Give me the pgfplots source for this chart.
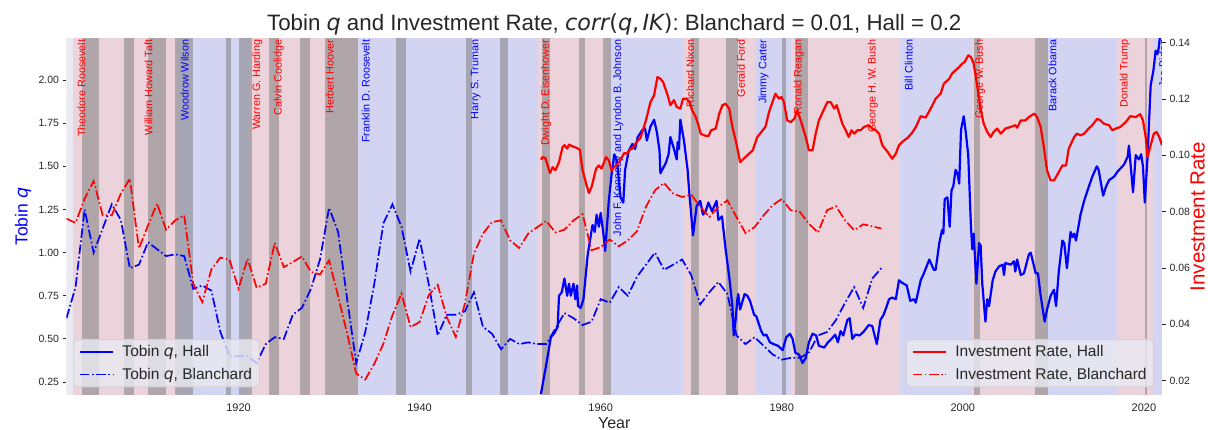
\documentclass[border=0pt]{standalone}
\usepackage{fontspec}
\setmainfont{Liberation Sans}
\newfontfamily\dv{DejaVu Sans}
\usepackage{pgfplots}
\usepackage{pgfplotstable}
\pgfplotsset{compat=1.18}

\definecolor{txt}{RGB}{38,38,38}
\definecolor{bgc}{RGB}{234,234,242}
\definecolor{repc}{RGB}{236,211,219}
\definecolor{demc}{RGB}{211,211,242}
\definecolor{recc}{RGB}{128,128,128}
\definecolor{legfill}{RGB}{234,234,242}
\definecolor{legdraw}{RGB}{210,210,214}

\newcommand\mq{{\dv\itshape q}}

\pgfplotstableread{
year q
1901 0.62
1902 0.80
1903 1.25
1904 1.00
1905 1.14
1906 1.28
1907 1.19
1908 0.91
1909 0.93
1910 1.06
1911 1.02
1912 0.98
1913 0.99
1914 0.98
1915 0.79
1916 0.81
1917 0.78
1918 0.54
1919 0.40
1920 0.40
1921 0.40
1922 0.36
1923 0.47
1924 0.51
1925 0.50
1926 0.64
1927 0.68
1928 0.79
1929 0.96
1930 1.26
1931 1.12
1932 0.73
1933 0.36
1934 0.54
1935 0.82
1936 1.17
1937 1.28
1938 1.15
1939 0.89
1940 1.08
1941 0.82
1942 0.52
1943 0.64
1944 0.64
1945 0.66
1946 0.77
1947 0.57
1948 0.53
1949 0.44
1950 0.50
1951 0.47
1952 0.48
1953 0.47
1954 0.47
1955 0.56
1956 0.65
1957 0.62
1958 0.58
1959 0.60
1960 0.73
1961 0.71
1962 0.80
1963 0.75
1964 0.86
1965 0.93
1966 1.00
1967 0.90
1968 0.93
1969 0.96
1970 0.87
1971 0.70
1972 0.77
1973 0.83
1974 0.76
1975 0.52
1976 0.47
1977 0.51
1978 0.46
1979 0.41
1980 0.38
1981 0.39
1982 0.39
1983 0.42
1984 0.52
1985 0.54
1986 0.61
1987 0.71
1988 0.80
1989 0.68
1990 0.85
1991 0.91
}\qblan

\pgfplotstableread{
year i
1901 0.0775
1902 0.0760
1903 0.0846
1904 0.0909
1905 0.0787
1906 0.0787
1907 0.0864
1908 0.0917
1909 0.0669
1910 0.0751
1911 0.0829
1912 0.0736
1913 0.0769
1914 0.0787
1915 0.0544
1916 0.0479
1917 0.0595
1918 0.0637
1919 0.0630
1920 0.0527
1921 0.0633
1922 0.0530
1923 0.0544
1924 0.0689
1925 0.0603
1926 0.0621
1927 0.0641
1928 0.0586
1929 0.0577
1930 0.0627
1931 0.0500
1932 0.0367
1933 0.0225
1934 0.0204
1935 0.0260
1936 0.0331
1937 0.0432
1938 0.0509
1939 0.0390
1940 0.0408
1941 0.0503
1942 0.0540
1943 0.0426
1944 0.0355
1945 0.0473
1946 0.0651
1947 0.0722
1948 0.0763
1949 0.0769
1950 0.0698
1951 0.0671
1952 0.0722
1953 0.0745
1954 0.0767
1955 0.0726
1956 0.0736
1957 0.0769
1958 0.0791
1959 0.0663
1960 0.0674
1961 0.0701
1962 0.0677
1963 0.0698
1964 0.0730
1965 0.0817
1966 0.0876
1967 0.0902
1968 0.0864
1969 0.0852
1970 0.0861
1971 0.0817
1972 0.0781
1973 0.0817
1974 0.0840
1975 0.0781
1976 0.0724
1977 0.0745
1978 0.0787
1979 0.0823
1980 0.0845
1981 0.0805
1982 0.0799
1983 0.0757
1984 0.0726
1985 0.0805
1986 0.0819
1987 0.0769
1988 0.0734
1989 0.0755
1990 0.0748
1991 0.0740
}\iblan

\pgfplotstableread{
year q
1953.4 0.18
1953.95 0.34
1954.5 0.51
1954.9 0.535
1955.25 0.57
1955.4 0.75
1955.7 0.77
1956.0 0.85
1956.3 0.75
1956.5 0.82
1956.7 0.75
1957.0 0.82
1957.2 0.73
1957.4 0.81
1957.5 0.69
1957.8 0.68
1958.1 0.73
1958.55 0.98
1958.85 1.08
1959.1 1.16
1959.35 1.12
1959.55 1.22
1959.8 1.15
1960.0 1.23
1960.3 1.11
1960.5 1.01
1960.9 1.30
1961.2 1.45
1961.5 1.57
1961.8 1.53
1962.2 1.32
1962.5 1.29
1962.7 1.48
1963.1 1.59
1963.5 1.63
1963.8 1.60
1964.1 1.67
1964.6 1.71
1964.9 1.72
1965.1 1.65
1965.5 1.73
1965.9 1.77
1966.2 1.70
1966.5 1.59
1966.6 1.46
1967.2 1.52
1967.5 1.57
1967.7 1.67
1968.1 1.60
1968.4 1.54
1968.5 1.64
1968.65 1.60
1968.8 1.77
1969.2 1.65
1969.6 1.48
1969.8 1.34
1970.2 1.10
1970.6 1.27
1971.0 1.30
1971.3 1.22
1971.6 1.24
1971.9 1.29
1972.3 1.24
1972.8 1.30
1973.0 1.19
1973.4 1.21
1973.8 1.02
1974.2 0.86
1974.55 0.69
1974.7 0.52
1974.9 0.61
1975.1 0.73
1975.2 0.76
1975.4 0.67
1975.9 0.76
1976.2 0.75
1976.5 0.72
1976.95 0.64
1977.2 0.63
1977.7 0.55
1978.0 0.52
1978.3 0.525
1978.7 0.48
1979.1 0.47
1979.6 0.46
1980.1 0.435
1980.5 0.51
1980.9 0.53
1981.2 0.50
1981.5 0.42
1981.9 0.41
1982.3 0.36
1982.65 0.39
1983.0 0.48
1983.4 0.53
1983.8 0.52
1984.1 0.46
1984.7 0.45
1985.1 0.48
1985.5 0.50
1985.9 0.525
1986.2 0.48
1986.5 0.545
1986.8 0.52
1987.25 0.61
1987.5 0.62
1987.8 0.50
1988.15 0.525
1988.6 0.52
1989.1 0.545
1989.6 0.58
1990.0 0.575
1990.5 0.47
1990.9 0.61
1991.25 0.64
1991.6 0.69
1991.85 0.73
1992.2 0.74
1992.6 0.73
1992.95 0.84
1993.3 0.825
1993.8 0.81
1994.2 0.72
1994.6 0.73
1994.8 0.71
1995.35 0.84
1995.7 0.88
1996.3 0.96
1996.8 0.90
1997.0 0.90
1997.4 1.055
1997.7 1.13
1997.85 1.11
1998.0 1.31
1998.3 1.32
1998.55 1.15
1998.75 1.36
1998.95 1.385
1999.2 1.48
1999.4 1.46
1999.6 1.40
1999.8 1.71
2000.1 1.79
2000.3 1.71
2000.6 1.565
2000.9 1.15
2001.05 1.02
2001.2 1.11
2001.5 0.82
2001.8 1.055
2001.97 1.04
2002.15 0.82
2002.5 0.60
2002.7 0.73
2002.9 0.69
2003.3 0.84
2003.6 0.89
2004.0 0.92
2004.4 0.93
2004.55 0.87
2004.7 0.94
2005.3 0.93
2005.65 0.95
2005.8 0.89
2006.0 0.96
2006.4 0.87
2006.75 0.88
2007.3 0.99
2007.5 1.00
2008.05 0.88
2008.3 0.88
2008.6 0.75
2009.04 0.60
2009.3 0.67
2009.7 0.75
2010.07 0.785
2010.3 0.69
2010.6 0.89
2011.0 1.07
2011.2 1.055
2011.5 0.91
2011.9 1.12
2012.1 1.09
2012.3 1.11
2012.5 1.07
2013.0 1.22
2013.4 1.30
2013.9 1.38
2014.3 1.44
2014.8 1.50
2015.0 1.48
2015.5 1.33
2015.8 1.38
2016.15 1.42
2016.7 1.44
2017.1 1.47
2017.45 1.49
2017.8 1.51
2018.2 1.555
2018.35 1.62
2018.6 1.47
2018.8 1.35
2019.1 1.565
2019.45 1.54
2019.7 1.57
2019.9 1.50
2020.1 1.29
2020.4 1.55
2020.75 1.97
2021.05 2.055
2021.3 2.17
2021.5 2.15
2021.65 2.19
2021.85 2.29
}\qhall

\pgfplotstableread{
year i
1953.4 0.0985
1953.6 0.0994
1953.9 0.0990
1954.2 0.0958
1954.4 0.0937
1954.7 0.0958
1955.0 0.0947
1955.4 0.0976
1955.8 0.1030
1956.0 0.1036
1956.3 0.1024
1956.5 0.1038
1956.9 0.1032
1957.3 0.1027
1957.7 0.1020
1958.0 0.0947
1958.4 0.0899
1958.7 0.0866
1959.0 0.0888
1959.5 0.0953
1959.8 0.0964
1960.1 0.0953
1960.6 0.0994
1960.9 0.0982
1961.2 0.0947
1961.5 0.0958
1962.05 0.0976
1962.6 0.1008
1962.9 0.1006
1963.2 0.1020
1963.5 0.1024
1963.9 0.1044
1964.4 0.1062
1965.0 0.1124
1965.5 0.1189
1965.9 0.1213
1966.27 0.1278
1966.6 0.1272
1966.9 0.1260
1967.4 0.1213
1967.7 0.1178
1968.1 0.1196
1968.4 0.1172
1968.8 0.1166
1969.1 0.1201
1969.5 0.1201
1969.8 0.1189
1970.1 0.1160
1970.5 0.1136
1970.8 0.1107
1971.05 0.1077
1971.4 0.1071
1971.9 0.1068
1972.2 0.1089
1972.7 0.1095
1973.1 0.1148
1973.45 0.1178
1973.8 0.1183
1974.2 0.1166
1974.55 0.1101
1975.03 0.1036
1975.4 0.0976
1975.8 0.0988
1976.2 0.1000
1976.8 0.1018
1977.3 0.1065
1977.9 0.1089
1978.2 0.1101
1978.6 0.1154
1979.1 0.1201
1979.3 0.1219
1979.7 0.1201
1979.96 0.1207
1980.25 0.1189
1980.6 0.1124
1981.0 0.1118
1981.4 0.1130
1981.7 0.1160
1982.1 0.1124
1982.65 0.1065
1983.0 0.1018
1983.4 0.1018
1983.75 0.1077
1984.1 0.1124
1984.7 0.1166
1985.04 0.1189
1985.4 0.1189
1985.8 0.1166
1986.07 0.1178
1986.3 0.1154
1986.7 0.1112
1987.06 0.1089
1987.4 0.1065
1987.7 0.1089
1988.0 0.1077
1988.35 0.1089
1988.7 0.1089
1989.1 0.1101
1989.6 0.1107
1990.0 0.1095
1990.4 0.1089
1990.75 0.1077
1991.1 0.1036
1991.7 0.1012
1992.2 0.0988
1992.6 0.1006
1992.95 0.1036
1993.4 0.1050
1993.9 0.1062
1994.4 0.1080
1994.8 0.1100
1995.35 0.1139
1995.9 0.1134
1996.45 0.1166
1997.0 0.1201
1997.55 0.1219
1997.9 0.1254
1998.5 0.1272
1998.8 0.1290
1999.2 0.1302
1999.6 0.1314
1999.95 0.1326
2000.2 0.1331
2000.6 0.1355
2000.9 0.1349
2001.2 0.1326
2001.5 0.1266
2002.0 0.1160
2002.3 0.1113
2002.7 0.1083
2003.07 0.1065
2003.4 0.1083
2003.8 0.1095
2004.2 0.1077
2004.7 0.1095
2005.3 0.1101
2005.8 0.1107
2006.0 0.1098
2006.4 0.1124
2006.9 0.1124
2007.3 0.1136
2007.9 0.1148
2008.2 0.1136
2008.6 0.1101
2009.0 0.1018
2009.3 0.0947
2009.7 0.0911
2010.07 0.0911
2010.4 0.0929
2011.0 0.0964
2011.4 0.0964
2011.7 0.1024
2012.3 0.1065
2012.6 0.1077
2013.0 0.1071
2013.4 0.1077
2013.9 0.1095
2014.3 0.1107
2014.85 0.1130
2015.2 0.1124
2015.6 0.1112
2016.15 0.1107
2016.5 0.1089
2016.9 0.1095
2017.4 0.1101
2018.0 0.1118
2018.5 0.1139
2019.1 0.1136
2019.6 0.1146
2019.9 0.1124
2020.2 0.1065
2020.4 0.0994
2020.75 0.1036
2021.1 0.1077
2021.4 0.1083
2021.7 0.1065
2022.0 0.1036
}\ihall

\tikzset{plab/.style={rotate=90, anchor=east, inner sep=0pt, font=\fontsize{10.8}{13}\selectfont}}

\begin{document}
\begin{tikzpicture}
\pgfplotsset{
  twin/.style={
    scale only axis, width=1095.5pt, height=356.7pt,
    at={(0pt,0pt)}, anchor=south west,
    xmin=1901, xmax=2022,
    axis line style={draw=none},
    tick align=outside,
    major tick length=4pt,
    tick style={color=txt, line width=0.9pt},
    tick label style={font=\fontsize{10.5}{12}\selectfont, text=txt},
    /pgf/number format/assume math mode=true,
    yticklabel style={/pgf/number format/fixed, /pgf/number format/fixed zerofill, /pgf/number format/precision=2},
    legend cell align=left,
    legend image code/.code={\draw[##1] (0pt,0pt) -- (33pt,0pt);},
    legend style={fill=legfill, fill opacity=0.8, text opacity=1, draw=legdraw, line width=0.8pt, rounded corners=4pt, font=\fontsize{15.5}{18.5}\selectfont, text=txt, inner xsep=5pt, inner ysep=4pt, row sep=5.8pt, /tikz/every odd column/.append style={column sep=6.6pt}},
  },
}
\begin{axis}[twin,
  ymin=0.175, ymax=2.242,
  ytick={0.25,0.5,0.75,1,1.25,1.5,1.75,2},
  ytick pos=left,
  xtick={1920,1940,1960,1980,2000,2020},
  xticklabels={1920,1940,1960,1980,2000,2020},
  xtick pos=bottom,
  xtick style={draw=none},
  xticklabel style={anchor=base, yshift=-12.7pt, font=\fontsize{11}{13}\selectfont},
  xlabel={Year},
  xlabel style={font=\fontsize{16}{19}\selectfont, text=txt, at={(axis description cs:0.5,0)}, anchor=base, yshift=-33.5pt},
  ylabel={Tobin \mq},
  ylabel style={font=\fontsize{17.5}{21}\selectfont, text=blue, at={(axis description cs:-0.0356,0.5)}, anchor=base},
  title={Tobin \mq\ and Investment Rate, {\dv\itshape corr}{\dv(}\mq{\dv,}\hspace{0.15em}{\dv\itshape IK}{\dv)}: Blanchard = 0.01, Hall = 0.2},
  title style={font=\fontsize{22.3}{26}\selectfont, text=txt, at={(axis description cs:0.5,1)}, anchor=base, yshift=1.8pt},
  legend style={at={(0.0062,0.0216)}, anchor=south west},
]
\fill[bgc] (axis cs:1901,0.175) rectangle (axis cs:2022,2.242);
% party spans
\fill[repc] (axis cs:1901.7,0.175) rectangle (axis cs:1913.17,2.242);
\fill[demc] (axis cs:1913.17,0.175) rectangle (axis cs:1921.17,2.242);
\fill[repc] (axis cs:1921.17,0.175) rectangle (axis cs:1933.17,2.242);
\fill[demc] (axis cs:1933.17,0.175) rectangle (axis cs:1953.05,2.242);
\fill[repc] (axis cs:1953.05,0.175) rectangle (axis cs:1961.05,2.242);
\fill[demc] (axis cs:1961.05,0.175) rectangle (axis cs:1969.05,2.242);
\fill[repc] (axis cs:1969.05,0.175) rectangle (axis cs:1977.05,2.242);
\fill[demc] (axis cs:1977.05,0.175) rectangle (axis cs:1981.05,2.242);
\fill[repc] (axis cs:1981.05,0.175) rectangle (axis cs:1993.05,2.242);
\fill[demc] (axis cs:1993.05,0.175) rectangle (axis cs:2001.05,2.242);
\fill[repc] (axis cs:2001.05,0.175) rectangle (axis cs:2009.05,2.242);
\fill[demc] (axis cs:2009.05,0.175) rectangle (axis cs:2017.05,2.242);
\fill[repc] (axis cs:2017.05,0.175) rectangle (axis cs:2021.05,2.242);
\fill[demc] (axis cs:2021.05,0.175) rectangle (axis cs:2022,2.242);
% recessions
\fill[recc, fill opacity=0.55] (axis cs:1902.67,0.175) rectangle (axis cs:1904.6,2.242);
\fill[recc, fill opacity=0.55] (axis cs:1907.37,0.175) rectangle (axis cs:1908.42,2.242);
\fill[recc, fill opacity=0.55] (axis cs:1910.0,0.175) rectangle (axis cs:1912.0,2.242);
\fill[recc, fill opacity=0.55] (axis cs:1913.0,0.175) rectangle (axis cs:1914.92,2.242);
\fill[recc, fill opacity=0.55] (axis cs:1918.62,0.175) rectangle (axis cs:1919.2,2.242);
\fill[recc, fill opacity=0.55] (axis cs:1920.0,0.175) rectangle (axis cs:1921.5,2.242);
\fill[recc, fill opacity=0.55] (axis cs:1923.37,0.175) rectangle (axis cs:1924.5,2.242);
\fill[recc, fill opacity=0.55] (axis cs:1926.8,0.175) rectangle (axis cs:1927.87,2.242);
\fill[recc, fill opacity=0.55] (axis cs:1929.6,0.175) rectangle (axis cs:1933.2,2.242);
\fill[recc, fill opacity=0.55] (axis cs:1937.37,0.175) rectangle (axis cs:1938.45,2.242);
\fill[recc, fill opacity=0.55] (axis cs:1945.1,0.175) rectangle (axis cs:1945.8,2.242);
\fill[recc, fill opacity=0.55] (axis cs:1948.87,0.175) rectangle (axis cs:1949.8,2.242);
\fill[recc, fill opacity=0.55] (axis cs:1953.5,0.175) rectangle (axis cs:1954.37,2.242);
\fill[recc, fill opacity=0.55] (axis cs:1957.6,0.175) rectangle (axis cs:1958.3,2.242);
\fill[recc, fill opacity=0.55] (axis cs:1960.3,0.175) rectangle (axis cs:1961.1,2.242);
\fill[recc, fill opacity=0.55] (axis cs:1969.95,0.175) rectangle (axis cs:1970.87,2.242);
\fill[recc, fill opacity=0.55] (axis cs:1973.87,0.175) rectangle (axis cs:1975.2,2.242);
\fill[recc, fill opacity=0.55] (axis cs:1980.0,0.175) rectangle (axis cs:1980.5,2.242);
\fill[recc, fill opacity=0.55] (axis cs:1981.5,0.175) rectangle (axis cs:1982.87,2.242);
\fill[recc, fill opacity=0.55] (axis cs:2001.2,0.175) rectangle (axis cs:2001.87,2.242);
\fill[recc, fill opacity=0.55] (axis cs:2007.95,0.175) rectangle (axis cs:2009.45,2.242);
\fill[recc, fill opacity=0.55] (axis cs:2020.1,0.175) rectangle (axis cs:2020.3,2.242);
% president labels
\node[plab, text=red] at (axis cs:1902.65,2.235) {Theodore Roosevelt};
\node[plab, text=red] at (axis cs:1910.07,2.235) {William Howard Taft};
\node[plab, text=blue] at (axis cs:1914.07,2.235) {Woodrow Wilson};
\node[plab, text=red] at (axis cs:1922.07,2.235) {Warren G. Harding};
\node[plab, text=red] at (axis cs:1924.45,2.235) {Calvin Coolidge};
\node[plab, text=red] at (axis cs:1930.07,2.235) {Herbert Hoover};
\node[plab, text=blue] at (axis cs:1934.05,2.235) {Franklin D. Roosevelt};
\node[plab, text=blue] at (axis cs:1946.2,2.235) {Harry S. Truman};
\node[plab, text=red] at (axis cs:1953.97,2.235) {Dwight D. Eisenhower};
\node[plab, text=blue] at (axis cs:1961.96,2.235) {John F. Kennedy and Lyndon B. Johnson};
\node[plab, text=red] at (axis cs:1969.9,2.235) {Richard Nixon};
\node[plab, text=red] at (axis cs:1975.5,2.235) {Gerald Ford};
\node[plab, text=blue] at (axis cs:1978.0,2.235) {Jimmy Carter};
\node[plab, text=red] at (axis cs:1981.9,2.235) {Ronald Reagan};
\node[plab, text=red] at (axis cs:1990.05,2.235) {George H. W. Bush};
\node[plab, text=blue] at (axis cs:1994.02,2.235) {Bill Clinton};
\node[plab, text=red] at (axis cs:2001.9,2.235) {George W. Bush};
\node[plab, text=blue] at (axis cs:2009.9,2.235) {Barack Obama};
\node[plab, text=red] at (axis cs:2017.9,2.235) {Donald Trump};
\node[plab, text=blue] at (axis cs:2022.1,2.235) {Joe Biden};
\addplot[blue, line width=2.2pt, line join=round] table[x=year, y=q] {\qhall};
\addlegendentry{Tobin \mq, Hall}
\addplot[blue, line width=1.7pt, dash pattern=on 9.6pt off 2.6pt on 1.6pt off 2.6pt] table[x=year, y=q] {\qblan};
\addlegendentry{Tobin \mq, Blanchard}
\end{axis}
\begin{axis}[twin,
  ymin=0.0149, ymax=0.14156,
  ytick={0.02,0.04,0.06,0.08,0.10,0.12,0.14},
  ytick pos=right, yticklabel pos=right,
  xtick=\empty,
  ylabel={Investment Rate},
  ylabel style={font=\fontsize{20.5}{24}\selectfont, text=red, at={(axis description cs:1.039,0.5)}, anchor=base, inner sep=0pt},
  legend style={at={(0.9927,0.0216)}, anchor=south east},
]
\addplot[red, line width=2.2pt, line join=round] table[x=year, y=i] {\ihall};
\addlegendentry{Investment Rate, Hall}
\addplot[red, line width=1.7pt, dash pattern=on 9.6pt off 2.6pt on 1.6pt off 2.6pt] table[x=year, y=i] {\iblan};
\addlegendentry{Investment Rate, Blanchard}
\end{axis}
\pgfresetboundingbox
\path[use as bounding box] (-66.5pt,-35pt) rectangle (1141.5pt,395pt);
\end{tikzpicture}
\end{document}
